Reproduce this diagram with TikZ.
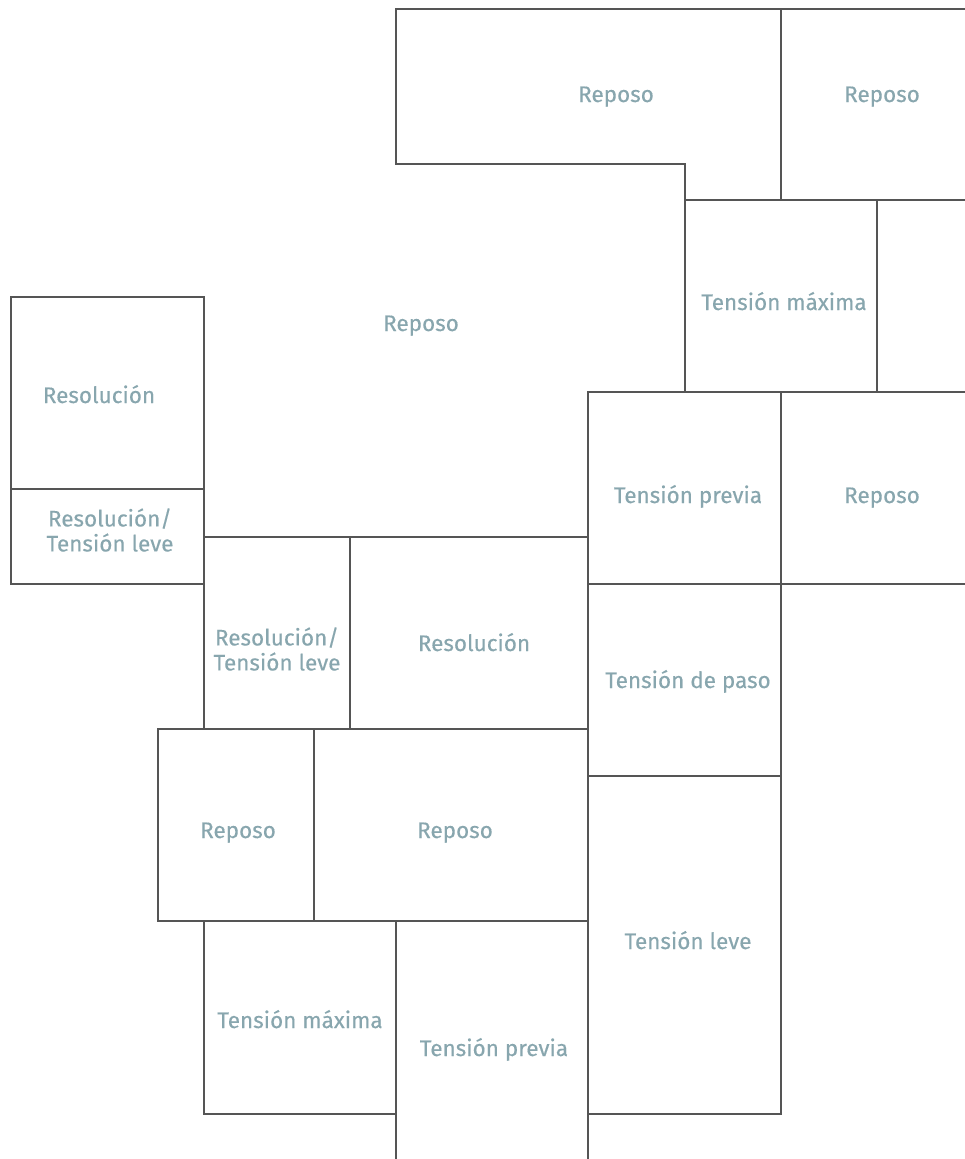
\documentclass[tikz,border=0pt]{standalone}
\usepackage{fontspec}
\setmainfont{Fira Sans}[FakeBold=0.35]
\definecolor{wallc}{RGB}{85,85,85}
\definecolor{labelc}{RGB}{136,166,174}
\tikzset{
  wall/.style={draw=wallc, line width=2pt, line cap=rect, line join=miter},
  lbl/.style={text=labelc, font=\fontsize{22.5}{25}\selectfont, inner sep=0pt, anchor=base, align=center}
}
\begin{document}
\begin{tikzpicture}[x=1pt,y=-1pt]
\useasboundingbox (0,0) rectangle (964,1159);
% walls
\draw[wall] (396,9) -- (970,9);
\draw[wall] (396,9) -- (396,164) -- (685,164) -- (685,392);
\draw[wall] (781,9) -- (781,200);
\draw[wall] (685,200) -- (970,200);
\draw[wall] (877,200) -- (877,392);
\draw[wall] (588,392) -- (970,392);
\draw[wall] (588,392) -- (588,1165);
\draw[wall] (781,392) -- (781,1114) -- (588,1114);
\draw[wall] (588,584) -- (970,584);
\draw[wall] (588,776) -- (781,776);
\draw[wall] (204,729) -- (204,297) -- (11,297) -- (11,584) -- (204,584);
\draw[wall] (11,489) -- (204,489);
\draw[wall] (204,537) -- (588,537);
\draw[wall] (350,537) -- (350,729);
\draw[wall] (158,729) -- (588,729);
\draw[wall] (588,921) -- (158,921) -- (158,729);
\draw[wall] (314,729) -- (314,921);
\draw[wall] (204,921) -- (204,1114) -- (396,1114);
\draw[wall] (396,921) -- (396,1165);
% labels
\node[lbl] (r1) at (616,102) {Reposo};
\node[lbl] (r2) at (882,102) {Reposo};
\node[lbl] (tm1) at (784,310) {Tensión máxima};
\node[lbl] (r3) at (421,331) {Reposo};
\node[lbl] (res1) at (99,403) {Resolución};
\node[lbl, anchor=center] (rt1) at (110,530) {Resolución/\\Tensión leve};
\node[lbl] (tp1) at (688,503) {Tensión previa};
\node[lbl] (r4) at (882,503) {Reposo};
\node[lbl, anchor=center] (rt2) at (277,649) {Resolución/\\Tensión leve};
\node[lbl] (res2) at (474,651) {Resolución};
\node[lbl] (tdp) at (688,688) {Tensión de paso};
\node[lbl] (r5) at (238,838) {Reposo};
\node[lbl] (r6) at (455,838) {Reposo};
\node[lbl] (tl) at (688,949) {Tensión leve};
\node[lbl] (tm2) at (300,1028) {Tensión máxima};
\node[lbl] (tp2) at (494,1056) {Tensión previa};
\end{tikzpicture}
\end{document}
